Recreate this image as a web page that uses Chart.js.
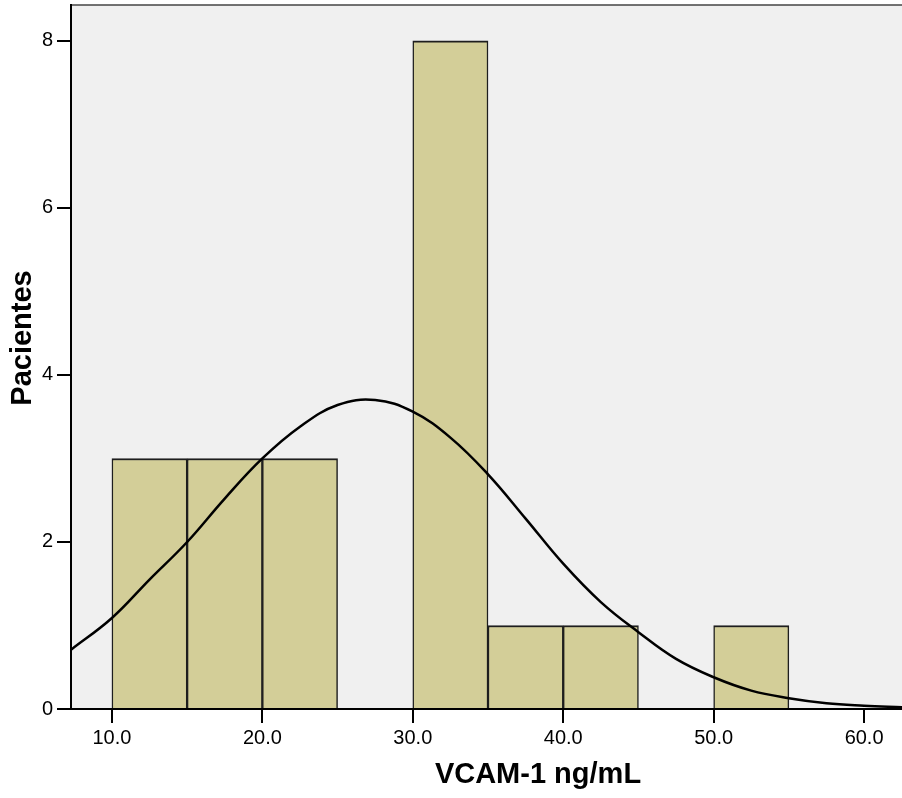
<!DOCTYPE html>
<html>
<head>
<meta charset="utf-8">
<script src="https://cdn.jsdelivr.net/npm/chart.js@4"></script>
<style>
  html, body { margin: 0; padding: 0; background: #fff; }
  #wrap { width: 902px; height: 798px; }
</style>
</head>
<body>
<div id="wrap"><canvas id="histChart" width="902" height="798"></canvas></div>
<script>
// histogram bins (width 5) and patient counts
const binCenters = [12.5, 17.5, 22.5, 27.5, 32.5, 37.5, 42.5, 47.5, 52.5];
const counts = [3, 3, 3, 0, 8, 1, 1, 0, 1];

// normal curve values read along the x axis
const curveX = [7.28, 10, 12.5, 15, 17.5, 20, 22.5, 25, 27.5, 30, 32.5, 35, 37.5, 40, 42.5, 45, 47.5, 50, 52.5, 55, 57.5, 60, 62.52];
const curveY = [0.71, 1.09, 1.55, 2.0, 2.52, 3.0, 3.38, 3.64, 3.70, 3.56, 3.25, 2.81, 2.28, 1.74, 1.28, 0.92, 0.60, 0.38, 0.22, 0.13, 0.07, 0.04, 0.02];

// axis ticks and titles
const xTicks = [10, 20, 30, 40, 50, 60];
const yTicks = [0, 2, 4, 6, 8];
const xTitle = 'VCAM-1 ng/mL';
const yTitle = 'Pacientes';

const fontFamily = "'Liberation Sans', Arial, sans-serif";
const axisFont = { family: fontFamily, size: 20 };

// grey plot background plus the thin frame line on top
const plotBackground = {
    id: 'plotBackground',
    beforeDraw(chart) {
        const { ctx, chartArea } = chart;
        ctx.save();
        ctx.fillStyle = '#f0f0f0';
        ctx.fillRect(chartArea.left, chartArea.top, chartArea.right - chartArea.left, chartArea.bottom - chartArea.top);
        ctx.strokeStyle = '#444';
        ctx.lineWidth = 1.5;
        ctx.beginPath();
        ctx.moveTo(chartArea.left, chartArea.top);
        ctx.lineTo(chartArea.right, chartArea.top);
        ctx.stroke();
        ctx.restore();
    }
};

// axis titles, centred on the full (uncropped) frame rather than the visible area
const axisTitles = {
    id: 'axisTitles',
    afterDraw(chart) {
        const { ctx } = chart;
        ctx.save();
        ctx.fillStyle = '#000';
        ctx.font = 'bold 29px ' + fontFamily;
        ctx.textAlign = 'center';
        ctx.textBaseline = 'middle';
        ctx.fillText(xTitle, 538, 775);
        ctx.translate(23, 338);
        ctx.rotate(-Math.PI / 2);
        ctx.fillText(yTitle, 0, 0);
        ctx.restore();
    }
};

const ctx = document.getElementById('histChart').getContext('2d');
new Chart(ctx, {
    type: 'bar',
    data: {
        datasets: [
            {
                type: 'line',
                data: curveX.map((x, i) => ({ x: x, y: curveY[i] })),
                borderColor: '#000',
                borderWidth: 2.5,
                pointRadius: 0,
                tension: 0.4,
                fill: false,
                order: 0
            },
            {
                type: 'bar',
                data: binCenters.map((x, i) => ({ x: x, y: counts[i] })),
                backgroundColor: 'rgb(211, 206, 152)',
                borderColor: '#1e1e1e',
                borderWidth: { top: 2, left: 1.5, right: 1.5, bottom: 0 },
                borderSkipped: false,
                barPercentage: 1,
                categoryPercentage: 1,
                order: 1
            }
        ]
    },
    options: {
        responsive: false,
        animation: false,
        layout: { padding: { top: 5, right: 0, left: 0, bottom: 0 } },
        plugins: {
            legend: { display: false },
            tooltip: { enabled: false }
        },
        scales: {
            x: {
                type: 'linear',
                min: 7.28,
                max: 62.52,
                offset: false,
                afterBuildTicks: scale => { scale.ticks = xTicks.map(v => ({ value: v })); },
                afterFit: scale => {
                    scale.height = 89;
                    scale.paddingLeft = 0;
                    scale.paddingRight = 0;
                },
                grid: { drawOnChartArea: false, drawTicks: true, tickLength: 14, color: '#000', lineWidth: 2, offset: false },
                border: { display: true, color: '#000', width: 2 },
                ticks: {
                    color: '#000',
                    font: axisFont,
                    padding: 3,
                    maxRotation: 0,
                    callback: value => value.toFixed(1)
                }
            },
            y: {
                type: 'linear',
                min: 0,
                max: 8.43,
                afterBuildTicks: scale => { scale.ticks = yTicks.map(v => ({ value: v })); },
                afterFit: scale => {
                    scale.width = 71;
                    scale.paddingTop = 0;
                    scale.paddingBottom = 0;
                },
                grid: { drawOnChartArea: false, drawTicks: true, tickLength: 14, color: '#000', lineWidth: 2 },
                border: { display: true, color: '#000', width: 2 },
                ticks: {
                    color: '#000',
                    font: axisFont,
                    padding: 4
                }
            }
        }
    },
    plugins: [plotBackground, axisTitles]
});
</script>
</body>
</html>
